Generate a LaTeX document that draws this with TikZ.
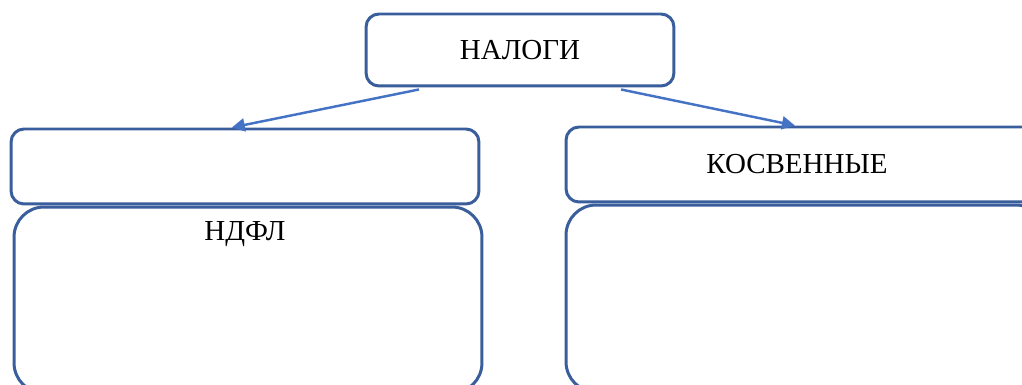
\documentclass[tikz,border=0pt]{standalone}
\usepackage{fontspec}
\setmainfont{Liberation Serif}
\usetikzlibrary{calc,arrows.meta}
\definecolor{boxblue}{HTML}{3A5E9C}
\definecolor{arrblue}{HTML}{4472C4}
\begin{document}
\begin{tikzpicture}[x=0.02cm,y=-0.02cm,
		box/.style={draw=boxblue,line width=1.7pt,rounded corners=0.26cm,fill=white,inner sep=0pt},
		bigbox/.style={box,rounded corners=0.6cm},
		arr/.style={draw=arrblue,line width=1.4pt,-{Triangle[length=0.26cm,width=0.26cm]}},
		every node/.style={font=\fontsize{16.5}{20}\selectfont}]
		\useasboundingbox (0,0) rectangle (1022,385);
		\clip (0,0) rectangle (1022,385);
		\node[box,minimum width=6.16cm,minimum height=1.44cm] (tax) at (520,50) {НАЛОГИ};
		\node[box,minimum width=9.36cm,minimum height=1.5cm] (lhead) at (245,166.5) {};
		\node[bigbox,minimum width=9.36cm,minimum height=3.72cm] (lbody) at (248,300) {};
		\node[anchor=north] (ndfl) at ($(lbody.north)+(-3,10)$) {НДФЛ};
		\node[box,minimum width=9.6cm,minimum height=1.5cm] (rhead) at (806,164.5) {};
		\node (kosv) at (797,164.5) {КОСВЕННЫЕ};
		\node[bigbox,minimum width=9.6cm,minimum height=3.74cm] (rbody) at (806,298.5) {};
		\draw[arr] ($(tax.south west)!0.175!(tax.south east)+(0,2)$) -- ($(lhead.north west)!0.472!(lhead.north east)$);
		\draw[arr] ($(tax.south west)!0.825!(tax.south east)+(0,2)$) -- ($(rhead.north west)!0.477!(rhead.north east)$);
	\end{tikzpicture}
\end{document}
